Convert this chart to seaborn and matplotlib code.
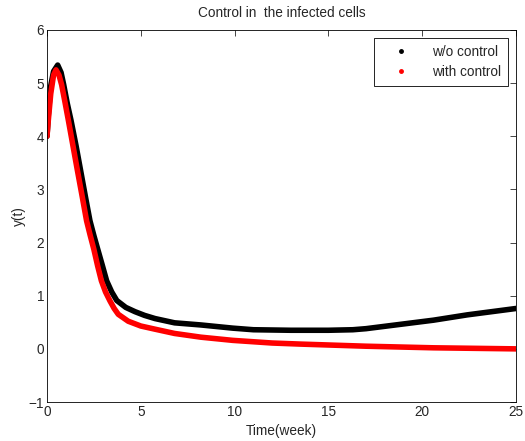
import numpy as np
import pandas as pd
import seaborn as sns
import matplotlib.pyplot as plt
from matplotlib.lines import Line2D

# values
t_black = [0, 0.07, 0.2, 0.35, 0.57, 0.75, 0.89, 1.08, 1.28, 1.55, 1.79, 2.05, 2.29, 2.5, 2.7,
           2.95, 3.18, 3.45, 3.72, 4.2, 4.69, 5.2, 5.76, 6.8, 8.2, 9.9, 11, 13, 15, 16.3,
           17, 18.8, 20.6, 22.4, 25]
y_black = [4.0, 4.4, 4.95, 5.22, 5.34, 5.2, 4.97, 4.62, 4.3, 3.82, 3.36, 2.86, 2.41, 2.13, 1.88,
           1.57, 1.28, 1.07, 0.91, 0.78, 0.7, 0.63, 0.57, 0.49, 0.45, 0.39, 0.36, 0.35, 0.35, 0.36,
           0.38, 0.46, 0.54, 0.64, 0.76]

t_red = [0, 0.07, 0.2, 0.35, 0.48, 0.64, 0.78, 0.95, 1.14, 1.38, 1.62, 1.87, 2.11, 2.3, 2.5,
         2.7, 2.9, 3.12, 3.36, 3.58, 3.8, 4.33, 5.0, 5.76, 6.8, 8.2, 9.9, 12, 13.5, 17,
         20.6, 25]
y_red = [4.0, 4.3, 4.8, 5.15, 5.25, 5.15, 4.97, 4.66, 4.3, 3.83, 3.36, 2.88, 2.41, 2.14, 1.87,
         1.56, 1.28, 1.07, 0.9, 0.76, 0.65, 0.52, 0.43, 0.37, 0.29, 0.22, 0.16, 0.11, 0.09, 0.05,
         0.02, 0.0]

df_black = pd.DataFrame({"t": t_black, "y": y_black})
df_red = pd.DataFrame({"t": t_red, "y": y_red})

sns.set_style("white")
plt.rcParams['font.family'] = ['Liberation Sans', 'DejaVu Sans']
fs = 9.8

fig = plt.figure(figsize=(5.25, 4.41), dpi=100)
ax = fig.add_axes([0.0895, 0.0884, 0.8935, 0.8436])

sns.lineplot(data=df_black, x="t", y="y", color="black", linewidth=4, ax=ax)
sns.lineplot(data=df_red, x="t", y="y", color="red", linewidth=4, ax=ax)

ax.set_xlim(0, 25)
ax.set_ylim(-1, 6)
ax.set_xticks([0, 5, 10, 15, 20, 25])
ax.set_yticks([-1, 0, 1, 2, 3, 4, 5, 6])
ax.tick_params(direction="in", top=True, right=True, labelsize=fs, length=4, width=0.6, pad=2)
for s in ax.spines.values():
    s.set_linewidth(0.6)
    s.set_color("black")

ax.set_title("Control in  the infected cells", fontsize=fs, pad=9)
ax.set_xlabel("Time(week)", fontsize=fs, labelpad=4)
ax.set_ylabel("y(t)", fontsize=fs, labelpad=2)

handles = [Line2D([], [], ls="none", marker=".", color="black", markersize=5),
           Line2D([], [], ls="none", marker=".", color="red", markersize=5)]
leg = ax.legend(handles, ["w/o control", "with control"], loc="upper right",
                fontsize=fs, fancybox=False, framealpha=1, edgecolor="black",
                borderaxespad=0.6, handlelength=3, handletextpad=0.8,
                labelspacing=0.45, borderpad=0.5)
leg.get_frame().set_linewidth(0.6)

fig.savefig("out.png", dpi=100, facecolor="white")
